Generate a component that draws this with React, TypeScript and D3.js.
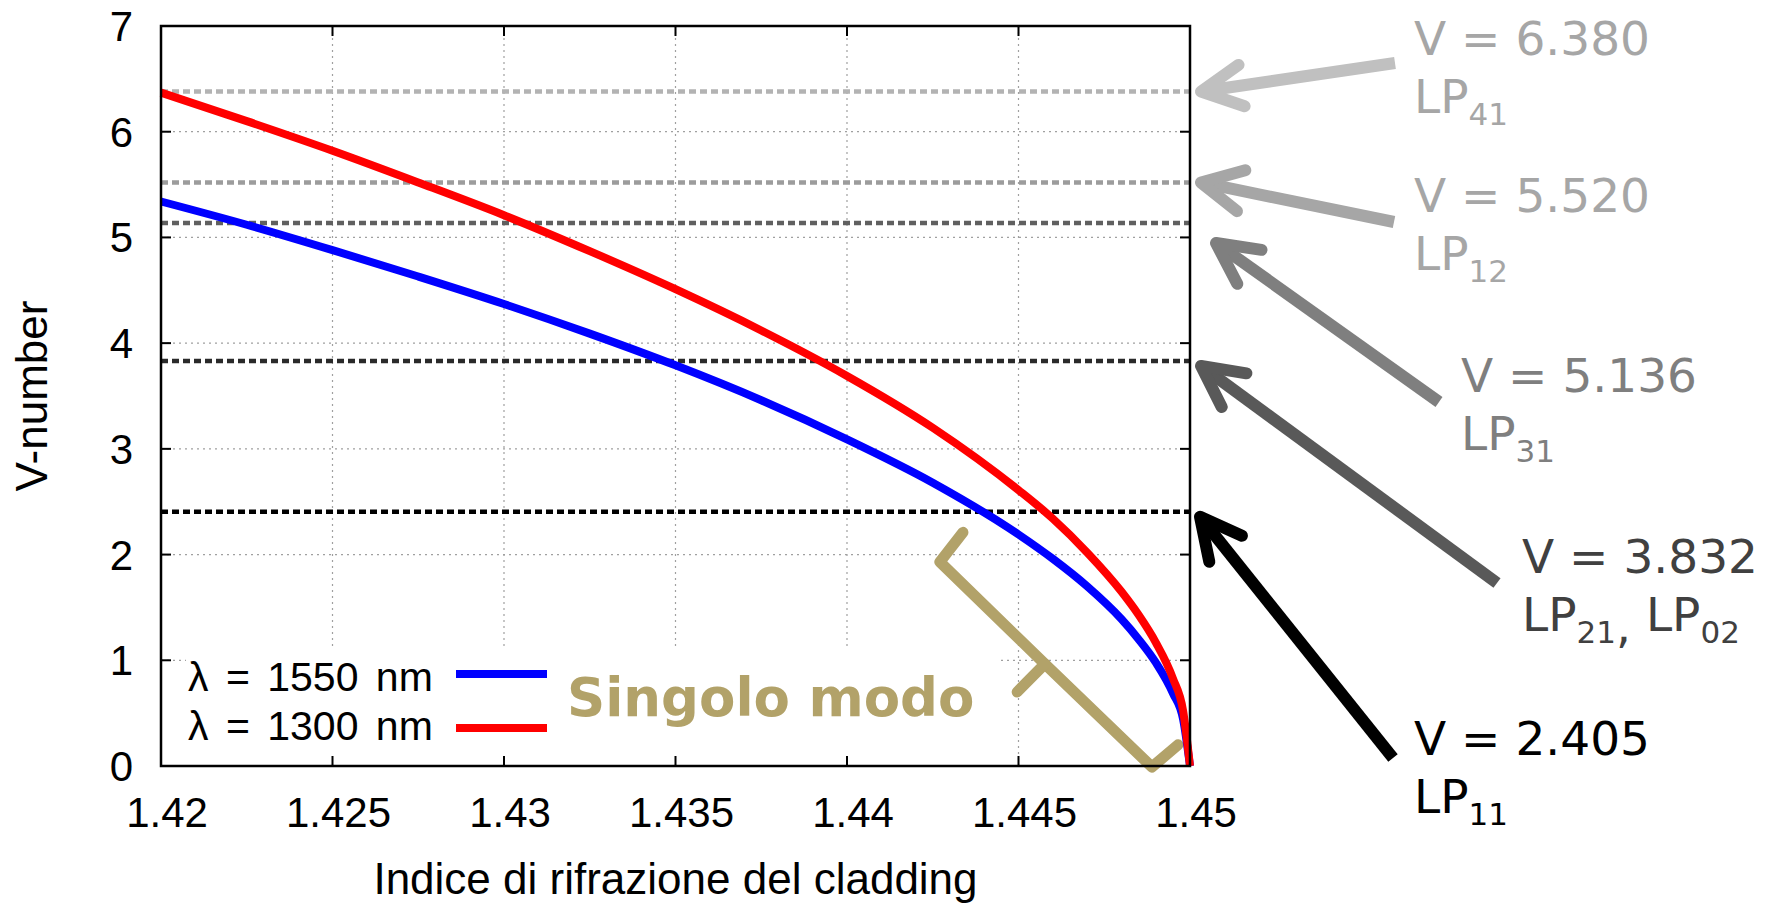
import React, { useEffect, useRef } from 'react';
import * as d3 from 'd3';

const WIDTH = 1777;
const HEIGHT = 903;

// readings: cladding index -> V-number
const claddingIndex = [
  1.42, 1.4225, 1.425, 1.4275, 1.43, 1.4325, 1.435, 1.4375, 1.44, 1.4425,
  1.445, 1.446, 1.447, 1.448, 1.4485, 1.449, 1.4495, 1.4498, 1.45,
];
const v1550 = [
  5.34, 5.12, 4.88, 4.63, 4.37, 4.09, 3.79, 3.46, 3.09, 2.68,
  2.19, 1.96, 1.7, 1.39, 1.2, 0.98, 0.69, 0.44, 0,
];
const v1300 = [
  6.37, 6.1, 5.82, 5.52, 5.21, 4.87, 4.51, 4.12, 3.69, 3.2,
  2.61, 2.34, 2.02, 1.65, 1.43, 1.17, 0.83, 0.52, 0,
];

const xTicks = [1.42, 1.425, 1.43, 1.435, 1.44, 1.445, 1.45];
const xTickLabels = ['1.42', '1.425', '1.43', '1.435', '1.44', '1.445', '1.45'];
const yTicks = [0, 1, 2, 3, 4, 5, 6, 7];

// cut-off values of the LP modes
const cutoffV = [6.38, 5.52, 5.136, 3.832, 2.405];
const cutoffLabel = ['6.380', '5.520', '5.136', '3.832', '2.405'];
const cutoffModes = [['41'], ['12'], ['31'], ['21', '02'], ['11']];
const cutoffLineColor = ['#b3b3b3', '#9c9c9c', '#606060', '#2a2a2a', '#000000'];
const cutoffArrowColor = ['#c0c0c0', '#a6a6a6', '#7f7f7f', '#595959', '#000000'];
const cutoffTextColor = ['#a6a6a6', '#a6a6a6', '#7f7f7f', '#404040', '#000000'];

// annotation layout (pixels): arrow tail, tip offset from the cut-off line, label position
const arrowTail: [number, number][] = [[1395, 63], [1394, 222], [1439, 402], [1497, 583], [1393, 758]];
const arrowTipX = [1201, 1201, 1216, 1201, 1200];
const arrowTipDy = [0, 0, 20, 5, 5];
const labelPos: [number, number][] = [[1414, 55], [1414, 212], [1461, 392], [1522, 573], [1414, 755]];

// curly bracket for the single-mode region, in data coordinates
const braceMain: [number, number][] = [
  [1.44338, 2.21], [1.44271, 1.93], [1.44577, 0.965], [1.44889, -0.01], [1.44965, 0.2],
];
const braceStub: [number, number][] = [[1.44577, 0.965], [1.44496, 0.7]];

const legendLabels = ['λ = 1550 nm', 'λ = 1300 nm'];
const seriesColors = ['#0000ff', '#ff0000'];

const CutoffChart: React.FC = () => {
  const svgRef = useRef<SVGSVGElement>(null);

  useEffect(() => {
    if (!svgRef.current) return;
    const svg = d3.select(svgRef.current);
    svg.selectAll('*').remove();

    const margin = { top: 26, left: 161, right: 1190, bottom: 766 };
    const x = d3.scaleLinear().domain([1.42, 1.45]).range([margin.left, margin.right]);
    const y = d3.scaleLinear().domain([0, 7]).range([margin.bottom, margin.top]);
    const font = 'Liberation Sans, Arial, Helvetica, sans-serif';
    const annoFont = 'DejaVu Sans, Verdana, sans-serif';

    svg.append('rect').attr('width', WIDTH).attr('height', HEIGHT).attr('fill', '#fff');

    // Grid
    const grid = svg.append('g');
    grid.selectAll('.gx')
      .data(xTicks.slice(1, -1))
      .join('line')
      .attr('x1', (d) => x(d)).attr('x2', (d) => x(d))
      .attr('y1', margin.top).attr('y2', margin.bottom)
      .attr('stroke', '#a0a0a0').attr('stroke-width', 1.2).attr('stroke-dasharray', '2,4');
    grid.selectAll('.gy')
      .data(yTicks.slice(1, -1))
      .join('line')
      .attr('x1', margin.left).attr('x2', margin.right)
      .attr('y1', (d) => y(d)).attr('y2', (d) => y(d))
      .attr('stroke', '#a0a0a0').attr('stroke-width', 1.2).attr('stroke-dasharray', '2,4');

    // opaque legend box
    svg.append('rect')
      .attr('x', 186).attr('y', 650).attr('width', 812).attr('height', 110)
      .attr('fill', '#fff');

    // Cut-off lines
    svg.append('g')
      .selectAll('line')
      .data(cutoffV)
      .join('line')
      .attr('x1', margin.left).attr('x2', margin.right)
      .attr('y1', (d) => y(d)).attr('y2', (d) => y(d))
      .attr('stroke', (_, i) => cutoffLineColor[i])
      .attr('stroke-width', 4.5)
      .attr('stroke-dasharray', '7,4');

    // Bracket
    const braceLine = d3.line<[number, number]>().x((d) => x(d[0])).y((d) => y(d[1]));
    [braceMain, braceStub].forEach((pts) => {
      svg.append('path')
        .attr('d', braceLine(pts))
        .attr('fill', 'none')
        .attr('stroke', '#b2a269')
        .attr('stroke-width', 11)
        .attr('stroke-linejoin', 'round')
        .attr('stroke-linecap', 'round');
    });

    // Curves
    const line = d3.line<number>()
      .x((_, i) => x(claddingIndex[i]))
      .y((d) => y(d))
      .curve(d3.curveMonotoneX);
    [v1550, v1300].forEach((series, i) => {
      svg.append('path')
        .attr('d', line(series))
        .attr('fill', 'none')
        .attr('stroke', seriesColors[i])
        .attr('stroke-width', 8);
    });

    // Frame and ticks
    svg.append('rect')
      .attr('x', margin.left).attr('y', margin.top)
      .attr('width', margin.right - margin.left).attr('height', margin.bottom - margin.top)
      .attr('fill', 'none').attr('stroke', '#000').attr('stroke-width', 2.5);
    const ticks = svg.append('g').attr('stroke', '#000').attr('stroke-width', 2);
    xTicks.forEach((t) => {
      ticks.append('line').attr('x1', x(t)).attr('x2', x(t)).attr('y1', margin.bottom).attr('y2', margin.bottom - 10);
      ticks.append('line').attr('x1', x(t)).attr('x2', x(t)).attr('y1', margin.top).attr('y2', margin.top + 10);
    });
    yTicks.forEach((t) => {
      ticks.append('line').attr('x1', margin.left).attr('x2', margin.left + 10).attr('y1', y(t)).attr('y2', y(t));
      ticks.append('line').attr('x1', margin.right).attr('x2', margin.right - 10).attr('y1', y(t)).attr('y2', y(t));
    });

    svg.append('g')
      .selectAll('text')
      .data(xTicks)
      .join('text')
      .attr('x', (d) => x(d) + 6)
      .attr('y', margin.bottom + 61)
      .attr('text-anchor', 'middle')
      .attr('font-family', font).attr('font-size', 42)
      .text((_, i) => xTickLabels[i]);
    svg.append('g')
      .selectAll('text')
      .data(yTicks)
      .join('text')
      .attr('x', 133)
      .attr('y', (d) => y(d) + 15)
      .attr('text-anchor', 'end')
      .attr('font-family', font).attr('font-size', 42)
      .text((d) => String(d));

    svg.append('text')
      .attr('x', (margin.left + margin.right) / 2).attr('y', 894)
      .attr('text-anchor', 'middle')
      .attr('font-family', font).attr('font-size', 44)
      .text('Indice di rifrazione del cladding');
    svg.append('text')
      .attr('transform', `translate(47,${(margin.top + margin.bottom) / 2}) rotate(-90)`)
      .attr('text-anchor', 'middle')
      .attr('font-family', font).attr('font-size', 44)
      .text('V-number');

    // Legend
    const rowsText = [691, 740];
    const rowsLine = [674, 728];
    legendLabels.forEach((lab, i) => {
      svg.append('text')
        .attr('x', 188).attr('y', rowsText[i])
        .attr('font-family', font).attr('font-size', 41)
        .attr('word-spacing', 6)
        .text(lab);
      svg.append('line')
        .attr('x1', 456).attr('x2', 547)
        .attr('y1', rowsLine[i]).attr('y2', rowsLine[i])
        .attr('stroke', seriesColors[i]).attr('stroke-width', 8);
    });

    svg.append('text')
      .attr('x', 567).attr('y', 716)
      .attr('font-family', annoFont).attr('font-weight', 'bold').attr('font-size', 53)
      .attr('fill', '#b2a269')
      .text('Singolo modo');

    // Arrows and labels
    const headLen = 46;
    const headAngle = (27 * Math.PI) / 180;
    cutoffV.forEach((v, i) => {
      const [tx, ty] = arrowTail[i];
      const px = arrowTipX[i];
      const py = y(v) + arrowTipDy[i];
      const back = Math.atan2(ty - py, tx - px);
      const g = svg.append('g').attr('stroke', cutoffArrowColor[i]).attr('fill', 'none').attr('stroke-width', 12);
      g.append('line').attr('x1', tx).attr('y1', ty).attr('x2', px).attr('y2', py);
      const a1: [number, number] = [px + headLen * Math.cos(back - headAngle), py + headLen * Math.sin(back - headAngle)];
      const a2: [number, number] = [px + headLen * Math.cos(back + headAngle), py + headLen * Math.sin(back + headAngle)];
      g.append('path')
        .attr('d', d3.line()([a1, [px, py], a2]))
        .attr('stroke-linecap', 'round')
        .attr('stroke-linejoin', 'round');

      const [lx, ly] = labelPos[i];
      svg.append('text')
        .attr('x', lx).attr('y', ly)
        .attr('font-family', annoFont).attr('font-size', 47)
        .attr('fill', cutoffTextColor[i])
        .text(`V = ${cutoffLabel[i]}`);
      const t = svg.append('text')
        .attr('x', lx).attr('y', ly + 58)
        .attr('font-family', annoFont).attr('font-size', 47)
        .attr('fill', cutoffTextColor[i]);
      cutoffModes[i].forEach((m, k) => {
        t.append('tspan').attr('dy', k === 0 ? 0 : -12).text(k === 0 ? 'LP' : ' LP');
        t.append('tspan').attr('dy', 12).attr('font-size', 31).text(m);
        if (k < cutoffModes[i].length - 1) t.append('tspan').text(',');
      });
    });
  }, []);

  return (
    <div style={{ position: 'absolute', left: 0, top: 0 }}>
      <svg ref={svgRef} width={WIDTH} height={HEIGHT} style={{ display: 'block' }} />
    </div>
  );
};

export default function App() {
  return <CutoffChart />;
}
